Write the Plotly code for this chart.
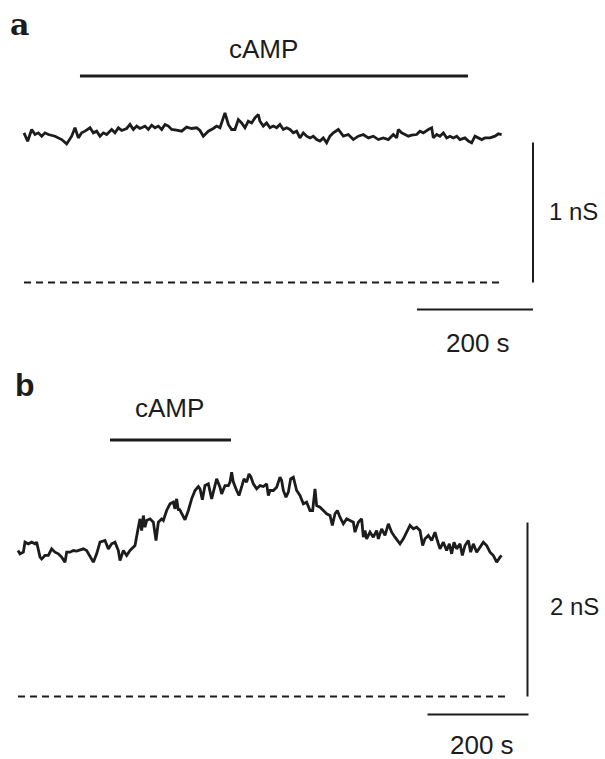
import plotly.graph_objects as go

# ---------------- Data (time in s, conductance in nS) ----------------
# Panel a: membrane conductance trace
TA = [0, 6.3, 13.2, 19.0, 24.7, 30.5, 36.2, 42.0, 53.5, 65.0,
      73.6, 82.2, 87.9, 93.7, 99.4, 105.2, 113.8, 119.6, 125.3, 131.0,
      136.8, 142.5, 151.2, 156.9, 162.7, 168.4, 177.0, 182.8, 188.5, 194.3,
      200.0, 208.6, 214.4, 220.1, 225.9, 231.6, 237.4, 243.1, 248.9, 254.6, 263.0,
      271.8, 280.4, 289.0, 297.7, 303.4, 309.1, 317.8, 326.4, 332.1, 337.9,
      346.5, 352.3, 358.0, 363.7, 369.5, 375.2, 381.0, 386.7, 392.5, 398.2,
      404.0, 406.8, 412.6, 418.3, 424.1, 429.8, 435.6, 441.3, 447.1, 452.8,
      458.6, 464.3, 470.1, 475.8, 481.6, 487.3, 493.1, 498.8, 504.6, 510.3,
      516.0, 521.8, 527.5, 533.3, 541.9,
      550.6, 559.2, 567.8, 576.4, 585.0, 593.7, 602.3, 610.9, 619.5, 628.2,
      636.8, 642.5, 645.4, 651.1, 656.9, 662.6, 668.4, 677.0, 682.7, 688.5,
      697.1, 702.9, 705.7, 711.5, 717.2, 723.0, 728.7, 734.5, 740.2, 746.0,
      751.7, 760.3, 766.1, 771.8, 777.6, 783.3, 789.1, 794.8, 803.4, 812.1,
      817.8, 823.5]
GA = [1.069, 1.009, 1.093, 1.057, 1.069, 1.045, 1.069, 1.057, 1.045, 1.021,
      0.990, 1.045, 1.105, 1.033, 1.069, 1.081, 1.105, 1.069, 1.081, 1.045,
      1.069, 1.057, 1.093, 1.069, 1.105, 1.086, 1.100, 1.129, 1.093, 1.117,
      1.100, 1.117, 1.093, 1.124, 1.105, 1.117, 1.093, 1.129, 1.117, 1.093, 1.088,
      1.081, 1.110, 1.100, 1.105, 1.086, 1.045, 1.081, 1.100, 1.117, 1.105,
      1.212, 1.129, 1.093, 1.093, 1.164, 1.140, 1.105, 1.152, 1.140, 1.176,
      1.200, 1.152, 1.117, 1.140, 1.105, 1.117, 1.105, 1.129, 1.093, 1.105,
      1.093, 1.069, 1.081, 1.033, 1.069, 1.045, 1.033, 1.045, 1.021, 1.010,
      1.033, 0.998, 1.045, 1.069, 1.093,
      1.045, 1.057, 1.021, 1.045, 1.057, 1.033, 1.045, 1.021, 1.033, 1.021,
      1.057, 1.033, 1.093, 1.069, 1.057, 1.045, 1.052, 1.057, 1.081, 1.069,
      1.093, 1.105, 1.033, 1.057, 1.045, 1.069, 1.033, 1.045, 1.033, 1.045,
      1.021, 1.033, 1.010, 0.998, 1.045, 1.033, 1.021, 1.033, 1.033, 1.045,
      1.062, 1.057]

# Panel b: membrane conductance trace
TB = [0, 4.0, 10.7, 14.0, 20.7, 27.3, 34.0, 37.3, 44.0, 47.3,
      54.0, 60.7, 67.3, 74.0, 80.7, 87.3, 94.0, 97.3, 104.0, 110.7,
      117.3, 124.0, 130.7, 137.3, 144.0, 150.7, 157.3, 164.0, 174.0, 180.7,
      187.3, 194.0, 200.7, 204.0, 210.7, 217.3, 224.0, 234.0, 240.7, 244.0,
      247.3, 250.7, 254.0, 257.3, 264.0, 270.7, 276.0, 280.7, 287.3, 290.7,
      297.3, 304.0, 310.7, 314.0, 317.3, 320.7,
      322.7, 327.3, 334.0, 340.7, 347.3, 354.0, 360.7, 364.0, 368.7, 374.0,
      380.7, 387.3, 394.0, 397.3, 404.0, 407.3, 414.0, 420.7, 424.0, 427.3,
      430.7, 434.0, 437.3, 442.0, 447.3, 452.0, 457.3, 462.0, 466.0, 470.7,
      477.3, 484.0, 490.7, 497.3, 500.7, 504.0, 510.7, 517.3, 524.0, 527.3,
      530.7, 536.0, 540.7, 545.3, 550.7, 557.3, 564.0, 570.7, 577.3, 584.0,
      589.3, 594.0, 597.3, 604.0, 610.7, 617.3, 624.0, 628.7, 634.0, 638.7,
      644.0,
      650.7, 657.3, 664.0, 670.7, 674.0, 680.7, 687.3, 690.7, 694.0, 697.3,
      704.0, 710.7, 717.3, 720.7, 727.3, 734.0, 740.7, 747.3, 754.0, 764.0,
      770.7, 777.3, 784.0, 790.7, 797.3, 804.0, 809.3, 814.0, 820.7, 827.3,
      834.0, 838.7, 844.0, 850.7, 857.3, 862.7, 867.3, 872.0, 877.3, 884.0,
      888.7, 894.0, 900.7, 905.3, 910.7, 917.3, 924.0, 930.7, 937.3, 944.0,
      950.7, 957.3, 964.0, 967.3]
GB = [1.678, 1.640, 1.659, 1.774, 1.755, 1.774, 1.755, 1.774, 1.602, 1.582,
      1.621, 1.621, 1.697, 1.659, 1.640, 1.602, 1.544, 1.659, 1.659, 1.678,
      1.671, 1.686, 1.697, 1.678, 1.602, 1.544, 1.640, 1.774, 1.793, 1.697,
      1.755, 1.774, 1.678, 1.563, 1.678, 1.621, 1.678, 1.736, 1.946, 2.042,
      1.908, 2.080, 1.946, 2.023, 2.042, 2.004, 1.793, 2.004, 2.042, 2.023,
      2.138, 2.215, 2.234, 2.157, 2.272, 2.138,
      2.157, 2.100, 2.031, 2.138, 2.272, 2.368, 2.414, 2.387, 2.261, 2.425,
      2.444, 2.272, 2.425, 2.502, 2.406, 2.329, 2.425, 2.425, 2.464, 2.579,
      2.464, 2.406, 2.368, 2.310, 2.406, 2.502, 2.464, 2.559, 2.521, 2.444,
      2.387, 2.425, 2.414, 2.444, 2.310, 2.368, 2.368, 2.406, 2.521, 2.483,
      2.368, 2.291, 2.349, 2.502, 2.521, 2.368, 2.310, 2.215, 2.234, 2.138,
      2.138, 2.387, 2.195, 2.176, 2.138, 2.100, 2.080, 1.966, 2.100, 2.138,
      2.061,
      1.985, 2.042, 2.023, 2.004, 1.889, 2.004, 2.042, 1.831, 1.908, 1.812,
      1.889, 1.831, 1.908, 1.812, 1.927, 1.851, 1.985, 1.889, 1.831, 1.755,
      1.812, 1.889, 1.966, 1.927, 1.946, 1.908, 1.736, 1.812, 1.851, 1.793,
      1.889, 1.793, 1.697, 1.774, 1.678, 1.755, 1.640, 1.774, 1.697, 1.755,
      1.621, 1.736, 1.793, 1.659, 1.755, 1.659, 1.716, 1.774, 1.736, 1.659,
      1.621, 1.544, 1.602, 1.621]

# cAMP application periods (s)
CAMP_A = [96.5, 765.5]
CAMP_B = [184, 426]
# Baseline (zero conductance) extent (s)
BASE_A = [0, 820]
BASE_B = [0, 980]
# Scale bars
SCALE_T = 200          # s
SCALE_G_A = 1          # nS
SCALE_G_B = 2          # nS
LABEL_T = "200 s"
LABEL_G_A = "1 nS"
LABEL_G_B = "2 nS"
STIM_LABEL = "cAMP"

# ---------------- Figure ----------------
INK = "#1c1c1c"
TXT = dict(family="Liberation Sans, Arial, sans-serif", size=26, color=INK)
TXT_S = dict(family="Liberation Sans, Arial, sans-serif", size=24, color=INK)
W, H = 605, 759
SPLIT = 1 - 365 / H

fig = go.Figure()

def line(x, y, ax, width=2.5, dash=None):
    xa, ya = ax
    fig.add_trace(go.Scatter(x=x, y=y, mode="lines", xaxis=xa, yaxis=ya,
                             line=dict(color=INK, width=width, dash=dash),
                             hoverinfo="skip", showlegend=False))

# panel a
AX_A = ("x", "y")
line(TA, GA, AX_A, 2.8)
line(BASE_A, [0, 0], AX_A, 2, "7px,5px")
line(CAMP_A, [1.475, 1.475], AX_A, 3)
sbx_a = 877.6
line([sbx_a, sbx_a], [0, SCALE_G_A], AX_A, 2)
line([sbx_a - SCALE_T, sbx_a], [-0.193, -0.193], AX_A, 2)

# panel b
AX_B = ("x2", "y2")
line(TB, GB, AX_B, 2.8)
line(BASE_B, [0, 0], AX_B, 2, "7px,5px")
line(CAMP_B, [2.948, 2.948], AX_B, 3.2)
sbx_b = 1019
line([sbx_b, sbx_b], [0, SCALE_G_B], AX_B, 2)
line([sbx_b - SCALE_T, sbx_b + 2], [-0.207, -0.207], AX_B, 2)

ann = [
    dict(text=STIM_LABEL, x=sum(CAMP_A) / 2 - 18, y=1.67, xref="x", yref="y",
         showarrow=False, font=TXT),
    dict(text=LABEL_G_A, x=993, y=0.506, xref="x", yref="y", xanchor="right",
         showarrow=False, font=TXT_S),
    dict(text=LABEL_T, x=782.8, y=-0.432, xref="x", yref="y",
         showarrow=False, font=TXT),
    dict(text=STIM_LABEL, x=302, y=3.316, xref="x2", yref="y2",
         showarrow=False, font=TXT),
    dict(text=LABEL_G_B, x=1166, y=1.029, xref="x2", yref="y2", xanchor="right",
         showarrow=False, font=TXT_S),
    dict(text=LABEL_T, x=928, y=-0.557, xref="x2", yref="y2",
         showarrow=False, font=TXT),
    dict(text="<b>a</b>", x=19 / W, y=1 - 24 / H, xref="paper", yref="paper",
         xanchor="center", yanchor="middle", showarrow=False,
         font=dict(family="DejaVu Serif, serif", size=30, color=INK)),
    dict(text="<b>b</b>", x=25 / W, y=1 - 385 / H, xref="paper", yref="paper",
         xanchor="center", yanchor="middle", showarrow=False,
         font=dict(family="Liberation Sans, Arial, sans-serif", size=32, color=INK)),
]

hidden = dict(visible=False, showgrid=False, zeroline=False, fixedrange=True)
fig.update_layout(
    width=W, height=H, margin=dict(l=0, r=0, t=0, b=0),
    paper_bgcolor="white", plot_bgcolor="white",
    xaxis=dict(hidden, domain=[0, 1], range=[-24 / 0.58, 581 / 0.58]),
    yaxis=dict(hidden, domain=[SPLIT, 1], range=[(282.5 - 365) / 140, 282.5 / 140]),
    xaxis2=dict(hidden, domain=[0, 1], range=[-36, 1174], anchor="y2"),
    yaxis2=dict(hidden, domain=[0, SPLIT], range=[(696.5 - 759) / 87, (696.5 - 365) / 87], anchor="x2"),
    annotations=ann,
    showlegend=False,
)

fig.write_html("out.html", config={"displayModeBar": False},
               post_script="document.body.style.margin='0';document.body.style.overflow='hidden';")
